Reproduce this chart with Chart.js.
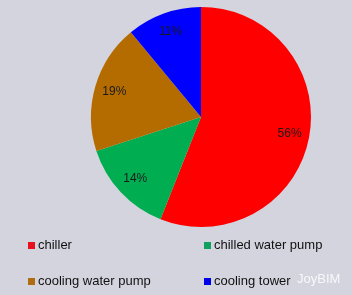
<html lang="en">
<head>
    <meta charset="UTF-8" />
    <title>Chart</title>
    <style>
        html, body { margin: 0; padding: 0; background: #d3d4de; }
        .chartBox { width: 352px; height: 295px; }
    </style>
</head>
<body>
    <div class="chartBox">
        <canvas id="myChart" width="352" height="295"></canvas>
    </div>

    <script src="https://cdn.jsdelivr.net/npm/chart.js"></script>
    <script>
        // data
        const categories = ["chiller", "chilled water pump", "cooling water pump", "cooling tower"];
        const shares = [56, 14, 19, 11];
        const colors = ["#ff0000", "#00ad50", "#b46c00", "#0000ff"];
        const legendColors = ["#e8101c", "#10a060", "#b06c10", "#0000e8"];

        // percent labels inside slices
        const sliceLabels = {
            id: "sliceLabels",
            afterDatasetsDraw(chart) {
                const ctx = chart.ctx;
                const meta = chart.getDatasetMeta(0);
                ctx.save();
                ctx.font = "12px 'Liberation Sans', Arial, sans-serif";
                ctx.fillStyle = "#1a1a1a";
                ctx.textAlign = "center";
                ctx.textBaseline = "middle";
                meta.data.forEach((arc, i) => {
                    const mid = (arc.startAngle + arc.endAngle) / 2;
                    const r = arc.outerRadius * 0.82;
                    ctx.fillText(shares[i] + "%", arc.x + Math.cos(mid) * r, arc.y + Math.sin(mid) * r);
                });
                ctx.restore();
            }
        };

        // two-column legend under the pie
        const gridLegend = {
            id: "gridLegend",
            afterDraw(chart) {
                const ctx = chart.ctx;
                const cols = [28, 204];
                const rows = [245, 281];
                ctx.save();
                ctx.font = "13px 'Liberation Sans', Arial, sans-serif";
                ctx.textBaseline = "middle";
                categories.forEach((name, i) => {
                    const x = cols[i % 2];
                    const y = rows[Math.floor(i / 2)];
                    ctx.fillStyle = legendColors[i];
                    ctx.fillRect(x, y - 3, 7, 7);
                    ctx.fillStyle = "#111";
                    ctx.fillText(name, x + 10, y);
                });
                // watermark
                ctx.font = "13px 'Liberation Sans', Arial, sans-serif";
                ctx.fillStyle = "rgba(255,255,255,0.85)";
                ctx.fillText("JoyBIM", 297, 279);
                ctx.restore();
            }
        };

        const config = {
            type: "pie",
            data: {
                labels: categories,
                datasets: [{
                    data: shares,
                    backgroundColor: colors,
                    borderWidth: 0
                }]
            },
            options: {
                responsive: false,
                animation: false,
                layout: { padding: { top: 7, bottom: 68, left: 91, right: 41 } },
                plugins: {
                    legend: { display: false },
                    tooltip: { enabled: false }
                }
            },
            plugins: [sliceLabels, gridLegend]
        };

        const myChart = new Chart(document.getElementById("myChart"), config);
    </script>
</body>
</html>
